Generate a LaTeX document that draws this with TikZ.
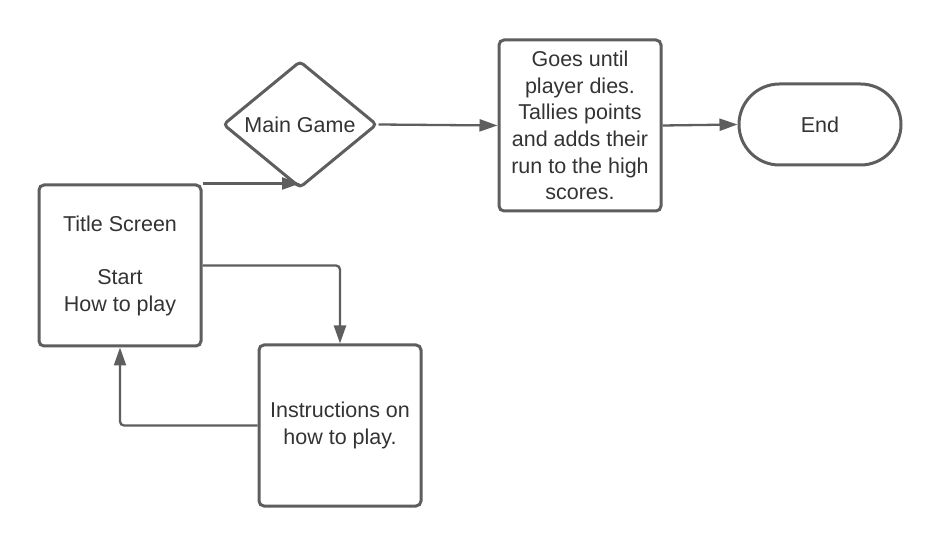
\documentclass[tikz,border=0pt]{standalone}
\usepackage{fontspec}
\setmainfont{Liberation Sans}
\usetikzlibrary{shapes.geometric,shapes.misc,arrows.meta}
\definecolor{linegray}{HTML}{5E5E5E}
\definecolor{textgray}{HTML}{333333}
\begin{document}
\begin{tikzpicture}[x=1pt,y=-1pt,
    every node/.style={text=textgray,font=\fontsize{21.5}{26.7}\selectfont,align=center},
    box node/.style={rectangle,rounded corners=5pt,draw=linegray,line width=3pt,minimum width=162pt,inner sep=0pt},
    game node/.style={diamond,rounded corners=4pt,draw=linegray,line width=3pt,minimum width=154pt,minimum height=115pt,inner sep=0pt},
    end node/.style={rounded rectangle,draw=linegray,line width=3pt,minimum width=162pt,minimum height=81pt,inner sep=0pt},
    link/.style={-{Triangle[length=18pt,width=12pt]},draw=linegray,line width=2.3pt},
    elbow/.style={link,rounded corners=4pt}]
    \useasboundingbox (0,0) rectangle (940,545);

    \node[box node, minimum height=161pt] (title) at (120,265.5) {Title Screen\\[26.7pt]Start\\How to play};
    \node[game node] (game) at (300,124.5) {Main Game};
    \node[box node, minimum height=171pt] (goes) at (580,125.5) {Goes until\\player dies.\\Tallies points\\and adds their\\run to the high\\scores.};
    \node[end node] (end) at (820,124.5) {End};
    \node[box node, minimum height=161pt] (instr) at (340,425.5) {Instructions on\\how to play.};

    \draw[link] (title.north east) -- (title.north east -| game.south);
    \draw[link] (game.east) -- (goes.west);
    \draw[link] (goes.east) -- (end.west);
    \draw[elbow] (title.east) -| (instr.north);
    \draw[elbow] (instr.west) -| (title.south);
\end{tikzpicture}
\end{document}
